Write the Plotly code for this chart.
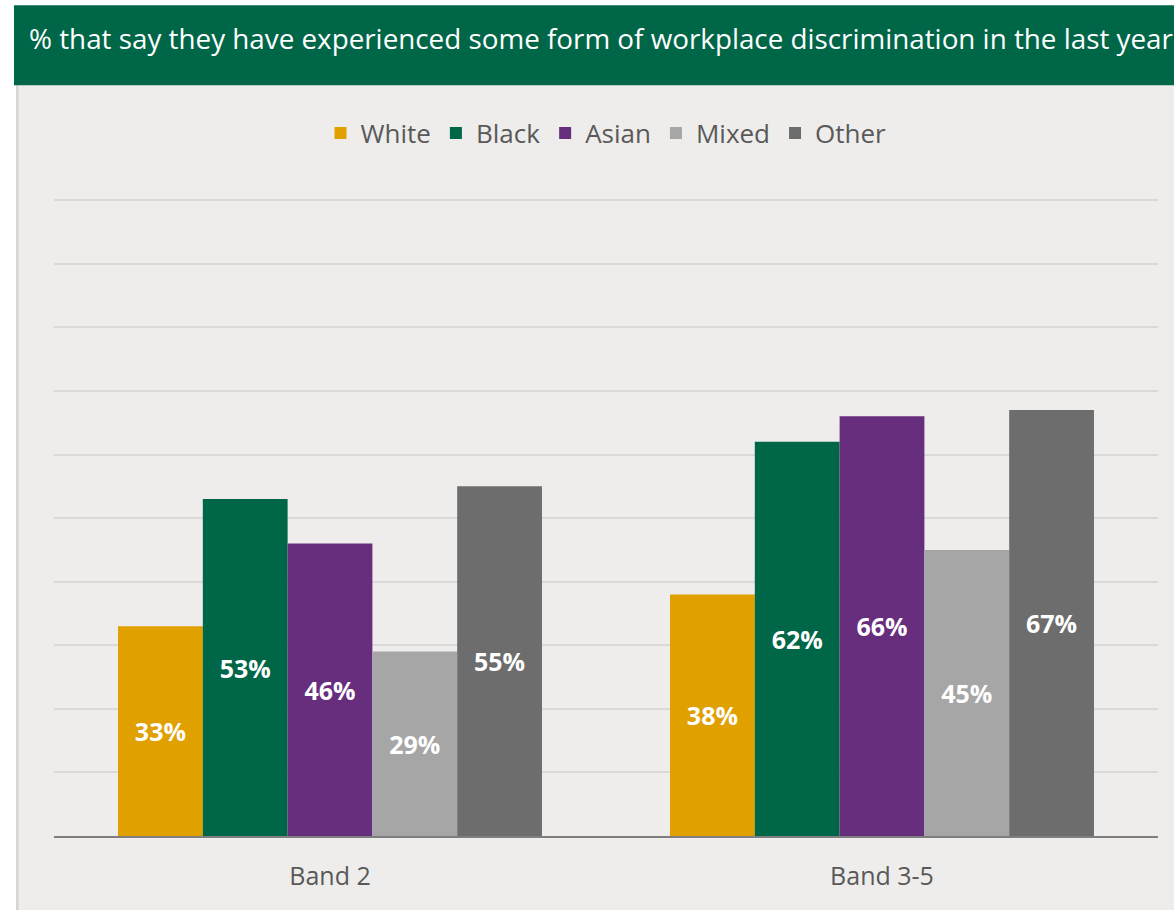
import plotly.graph_objects as go

# Survey results by pay band and ethnic group (% reporting workplace discrimination)
bands = ["Band 2", "Band 3-5"]
groups = ["White", "Black", "Asian", "Mixed", "Other"]
white = [33, 38]
black = [53, 62]
asian = [46, 66]
mixed = [29, 45]
other = [55, 67]
colors = ["#E0A000", "#006648", "#682E7E", "#A6A6A6", "#6D6D6D"]

series = [white, black, asian, mixed, other]

W, H = 1174, 910
YMAX = 100.5
L, R, B = 54, 16, 74
PH = 636 * YMAX / 100
T = H - B - PH
PW = W - L - R

FONT = "Open Sans"


def px_x(x):
    return (x - L) / PW


def px_y(y):
    return (H - B - y) / PH


fig = go.Figure()
for name, vals, col in zip(groups, series, colors):
    fig.add_trace(go.Bar(
        name=name,
        x=bands,
        y=vals,
        marker=dict(color=col, line=dict(width=0)),
        text=[f"{v}%" for v in vals],
        textposition="inside",
        insidetextanchor="middle",
        textangle=0,
        constraintext="none",
        textfont=dict(family=FONT, size=25, color="white", weight="bold"),
        hoverinfo="skip",
    ))

shapes = [
    # panel background with a thin left edge
    dict(type="rect", xref="paper", yref="paper", layer="below",
         x0=px_x(16), x1=px_x(W), y0=px_y(85), y1=px_y(H),
         fillcolor="#EEEDEB", line=dict(width=0)),
    dict(type="rect", xref="paper", yref="paper", layer="below",
         x0=px_x(16), x1=px_x(18.5), y0=px_y(85), y1=px_y(H),
         fillcolor="#D6D5D3", line=dict(width=0)),
    # title banner
    dict(type="rect", xref="paper", yref="paper", layer="below",
         x0=px_x(14), x1=px_x(W), y0=px_y(5), y1=px_y(85),
         fillcolor="#006648", line=dict(width=0)),
]

annotations = [
    dict(text="% that say they have experienced some form of workplace discrimination in the last year",
         xref="paper", yref="paper", x=px_x(27), y=px_y(38),
         xanchor="left", yanchor="middle", showarrow=False,
         font=dict(family=FONT, size=27.8, color="white")),
]

fig.update_layout(
    width=W, height=H,
    margin=dict(l=L, r=R, t=T, b=B, pad=0),
    paper_bgcolor="white",
    plot_bgcolor="rgba(0,0,0,0)",
    barmode="group",
    bargap=0.232,
    bargroupgap=0,
    font=dict(family=FONT, color="#595959"),
    showlegend=True,
    legend=dict(
        orientation="h", xanchor="center", yanchor="middle",
        x=0.5, y=px_y(133),
        font=dict(family=FONT, size=26, color="#595959"),
        bgcolor="rgba(0,0,0,0)",
        itemwidth=30, tracegroupgap=0,
    ),
    shapes=shapes,
    annotations=annotations,
    xaxis=dict(
        showgrid=False,
        showline=True, linecolor="#7F7F7F", linewidth=2,
        ticks="", ticklabelstandoff=17,
        tickfont=dict(family=FONT, size=25, color="#595959"),
    ),
    yaxis=dict(
        range=[0, YMAX], dtick=10,
        showgrid=True, gridcolor="#D9D9D9", gridwidth=2,
        zeroline=False, showticklabels=False, ticks="",
    ),
)

fig.write_html("out.html")
